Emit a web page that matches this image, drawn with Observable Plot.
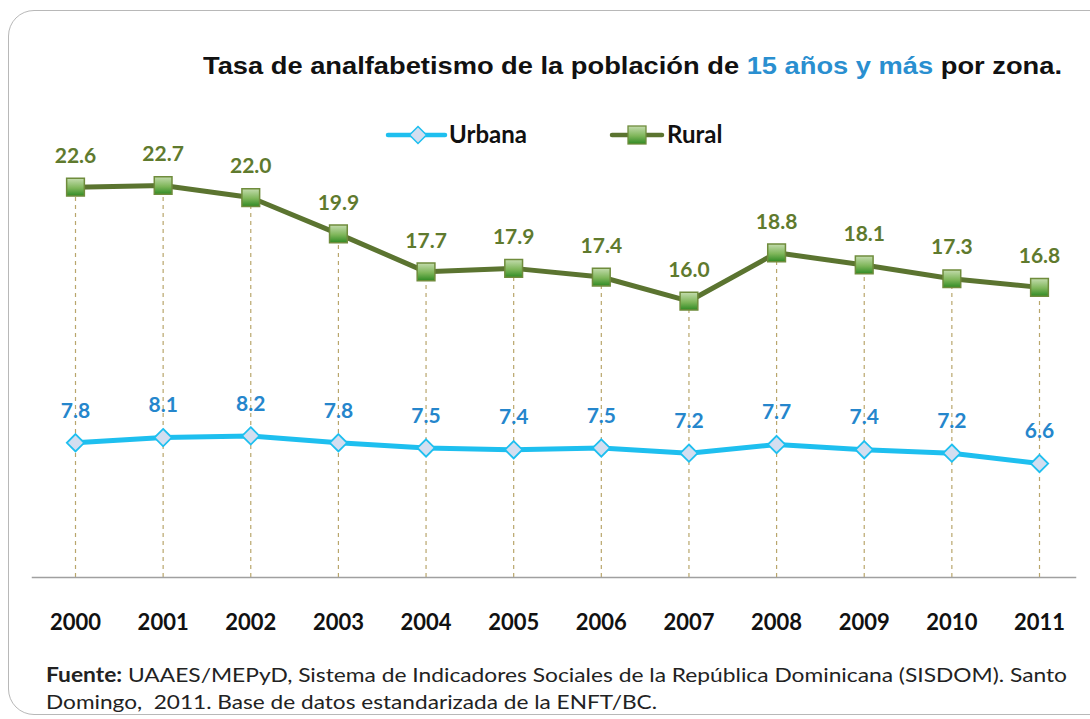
<!DOCTYPE html>
<html>
<head>
<meta charset="utf-8">
<script src="https://cdn.jsdelivr.net/npm/d3@7"></script>
<script src="https://cdn.jsdelivr.net/npm/@observablehq/plot@0.6"></script>
<style>
  html, body { margin: 0; padding: 0; background: #fff; }
  #wrap { position: relative; width: 1090px; height: 719px; overflow: hidden; font-family: Lato, "Open Sans", sans-serif; }
  #border { position: absolute; left: 8px; top: 10px; width: 1110px; height: 705px; border: 1.5px solid #b8b8b8; border-radius: 26px; box-sizing: border-box; }
  #title { position: absolute; left: 203px; top: 52px; font-family: "Liberation Sans", Arial, sans-serif; font-weight: bold; font-size: 24.5px; color: #111; white-space: nowrap; transform-origin: left center; }
  #title .hl { color: #2a8fd0; }
  #legend { position: absolute; left: 0; top: 118px; width: 1090px; height: 36px; }
  #chart { position: absolute; left: 0; top: 100px; }
  .cap { position: absolute; left: 46px; font-family: Lato, sans-serif; font-size: 20px; color: #222; white-space: nowrap; transform-origin: left center; }
</style>
</head>
<body>
<div id="wrap">
  <div id="border"></div>
  <div id="chart"></div>
  <div id="title">Tasa de analfabetismo de la población de <span class="hl">15 años y más</span> por zona.</div>
  <svg id="legend" width="1090" height="36"></svg>
  <div id="cap1" class="cap" style="top:662px"><b>Fuente:</b> UAAES/MEPyD, Sistema de Indicadores Sociales de la República Dominicana (SISDOM). Santo</div>
  <div id="cap2" class="cap" style="top:689px">Domingo,&nbsp; 2011. Base de datos estandarizada de la ENFT/BC.</div>
</div>
<script>
const years = ["2000","2001","2002","2003","2004","2005","2006","2007","2008","2009","2010","2011"];
const urbana = [7.8, 8.1, 8.2, 7.8, 7.5, 7.4, 7.5, 7.2, 7.7, 7.4, 7.2, 6.6];
const rural = [22.6, 22.7, 22.0, 19.9, 17.7, 17.9, 17.4, 16.0, 18.8, 18.1, 17.3, 16.8];
const seriesNames = ["Urbana", "Rural"];

const urbanColor = "#1ebfef";
const urbanLabel = "#2586cc";
const ruralColor = "#5b7430";
const ruralLabel = "#5f7a2e";

const dataU = years.map((y, i) => ({year: y, value: urbana[i]}));
const dataR = years.map((y, i) => ({year: y, value: rural[i]}));

const chart = Plot.plot({
  width: 1090,
  height: 560,
  marginLeft: 32,
  marginRight: 15,
  marginTop: 28,
  marginBottom: 83,
  x: {type: "point", domain: years, padding: 0, round: false, insetLeft: 43, insetRight: 36, label: null},
  y: {domain: [0, 26], axis: null},
  marks: [
    Plot.ruleX(dataR, {x: "year", y1: 0, y2: "value", stroke: "#b9a66c", strokeWidth: 1.2, strokeDasharray: "4,4"}),
    Plot.frame({anchor: "bottom", stroke: "#a0a0a0", strokeWidth: 1.5}),
    Plot.axisX({tickSize: 0, tickPadding: 37, fontSize: 22, fontWeight: "bold", fill: "#111", fontFamily: "Lato, sans-serif", label: null}),
    Plot.line(dataU, {x: "year", y: "value", stroke: urbanColor, strokeWidth: 5}),
    Plot.dot(dataU, {x: "year", y: "value", symbol: "diamond2", r: 7.8, fill: "#d3def0", stroke: urbanColor, strokeWidth: 1.8}),
    Plot.line(dataR, {x: "year", y: "value", stroke: ruralColor, strokeWidth: 5}),
    Plot.dot(dataR, {x: "year", y: "value", symbol: "square", r: 10, fill: "url(#sqgrad)", stroke: "#6f8c3c", strokeWidth: 1.5}),
    Plot.text(dataR, {x: "year", y: "value", text: d => d.value.toFixed(1), dy: -31, fill: ruralLabel, fontSize: 21, fontWeight: "bold", fontFamily: "Lato, sans-serif"}),
    Plot.text(dataU, {x: "year", y: "value", text: d => d.value.toFixed(1), dy: -32, fill: urbanLabel, fontSize: 21, fontWeight: "bold", fontFamily: "Lato, sans-serif"})
  ]
});

// gradient for square markers
const defs = d3.select(chart).insert("defs", ":first-child");
const g = defs.append("linearGradient").attr("id", "sqgrad").attr("x1", 0).attr("y1", 0).attr("x2", 0).attr("y2", 1);
g.append("stop").attr("offset", "0%").attr("stop-color", "#c4dcae");
g.append("stop").attr("offset", "55%").attr("stop-color", "#7fb65a");
g.append("stop").attr("offset", "100%").attr("stop-color", "#2f8a24");
document.getElementById("chart").appendChild(chart);

// legend
const leg = d3.select("#legend");
const ldefs = leg.append("defs");
const lg = ldefs.append("linearGradient").attr("id", "sqgrad2").attr("x1", 0).attr("y1", 0).attr("x2", 0).attr("y2", 1);
lg.append("stop").attr("offset", "0%").attr("stop-color", "#c4dcae");
lg.append("stop").attr("offset", "55%").attr("stop-color", "#7fb65a");
lg.append("stop").attr("offset", "100%").attr("stop-color", "#2f8a24");
const cy = 17;
// Urbana
leg.append("line").attr("x1", 388).attr("x2", 445).attr("y1", cy).attr("y2", cy).attr("stroke", urbanColor).attr("stroke-width", 4.5).attr("stroke-linecap", "round");
leg.append("path").attr("d", d3.symbol(d3.symbolDiamond2, 9 * 9 * Math.PI)()).attr("transform", `translate(418,${cy}) scale(0.85)`).attr("fill", "#d3def0").attr("stroke", urbanColor).attr("stroke-width", 1.8);
leg.append("text").attr("x", 449).attr("y", cy).attr("dy", "0.35em").attr("font-family", "Lato, sans-serif").attr("font-weight", "bold").attr("font-size", 24).attr("fill", "#111").text(seriesNames[0]);
// Rural
leg.append("line").attr("x1", 612).attr("x2", 662).attr("y1", cy).attr("y2", cy).attr("stroke", ruralColor).attr("stroke-width", 4.5).attr("stroke-linecap", "round");
leg.append("rect").attr("x", 628).attr("y", cy - 9).attr("width", 18).attr("height", 18).attr("fill", "url(#sqgrad2)").attr("stroke", "#6f8c3c").attr("stroke-width", 1.3);
leg.append("text").attr("x", 667).attr("y", cy).attr("dy", "0.35em").attr("font-family", "Lato, sans-serif").attr("font-weight", "bold").attr("font-size", 24).attr("fill", "#111").text(seriesNames[1]);

// stretch text blocks horizontally to match reference widths
function fitWidth(id, target) {
  const el = document.getElementById(id);
  const w = el.getBoundingClientRect().width;
  el.style.transform = `scaleX(${target / w})`;
}
fitWidth("title", 859);
fitWidth("cap1", 1021);
fitWidth("cap2", 611);
</script>
</body>
</html>
